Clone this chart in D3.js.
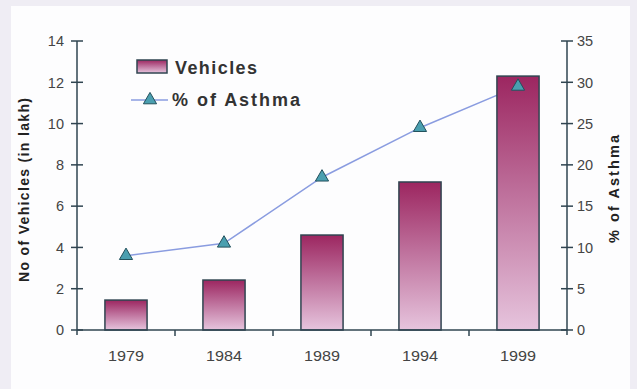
<!DOCTYPE html>
<html>
<head>
<meta charset="utf-8">
<script src="https://cdn.jsdelivr.net/npm/d3@7"></script>
<style>
  html, body { margin: 0; padding: 0; background: #efedf4; }
  svg { display: block; }
  text { font-family: "Liberation Sans", Arial, sans-serif; }
</style>
</head>
<body>
<svg id="chart" width="637" height="389"></svg>
<script>
// Vehicle counts (lakh) and asthma prevalence (%) by survey year
const years = ["1979", "1984", "1989", "1994", "1999"];
const vehicles = [1.45, 2.42, 4.6, 7.17, 12.3];
const asthma = [9, 10.5, 18.5, 24.5, 29.5];
const leftTicks = [0, 2, 4, 6, 8, 10, 12, 14];
const rightTicks = [0, 5, 10, 15, 20, 25, 30, 35];

const svg = d3.select("#chart");

// white plotting panel
svg.append("rect")
  .attr("x", 11).attr("y", 6).attr("width", 619).attr("height", 383)
  .attr("fill", "#fdfdfe");

const plotL = 77, plotR = 567, plotT = 41, plotB = 330;

const x = d3.scaleBand().domain(years).range([plotL, plotR]).paddingInner(0.57).paddingOuter(0.285);
const xBand = d3.scaleBand().domain(years).range([plotL, plotR]);
const cx = d => xBand(d) + xBand.bandwidth() / 2;
const yL = d3.scaleLinear().domain([0, 14]).range([plotB, plotT]);
const yR = d3.scaleLinear().domain([0, 35]).range([plotB, plotT]);

const defs = svg.append("defs");
const grad = defs.append("linearGradient").attr("id", "barGrad")
  .attr("x1", 0).attr("y1", 0).attr("x2", 0).attr("y2", 1);
grad.append("stop").attr("offset", "0%").attr("stop-color", "#9c2660");
grad.append("stop").attr("offset", "45%").attr("stop-color", "#bd6e9a");
grad.append("stop").attr("offset", "100%").attr("stop-color", "#e6c4dd");

const axisColor = "#2f4450";
const lineColor = "#8a9ce0";
const tickText = "#444";

// asthma line sits behind the bars; its markers are drawn on top later
const line = d3.line().x((d, i) => cx(years[i])).y(d => yR(d));
svg.append("path").datum(asthma).attr("d", line)
  .attr("fill", "none").attr("stroke", lineColor).attr("stroke-width", 1.5);

// bars
svg.append("g").selectAll("rect").data(years).join("rect")
  .attr("x", d => x(d))
  .attr("width", x.bandwidth())
  .attr("y", (d, i) => yL(vehicles[i]))
  .attr("height", (d, i) => yL(0) - yL(vehicles[i]))
  .attr("fill", "url(#barGrad)")
  .attr("stroke", axisColor)
  .attr("stroke-width", 1.5);

// left axis
const gL = svg.append("g").attr("transform", `translate(${plotL},0)`);
gL.append("line").attr("y1", yL(14)).attr("y2", yL(0) + 5).attr("stroke", axisColor).attr("stroke-width", 1.5);
gL.selectAll("line.t").data(leftTicks).join("line").attr("class", "t")
  .attr("x1", -6).attr("x2", 6).attr("y1", d => yL(d)).attr("y2", d => yL(d))
  .attr("stroke", axisColor).attr("stroke-width", 1.5);
gL.selectAll("text").data(leftTicks).join("text")
  .attr("x", -13).attr("y", d => yL(d)).attr("dy", "0.36em")
  .attr("text-anchor", "end").attr("font-size", 14.5).attr("fill", tickText)
  .text(d => d);

// right axis
const gR = svg.append("g").attr("transform", `translate(${plotR},0)`);
gR.append("line").attr("y1", yR(35)).attr("y2", yR(0) + 5).attr("stroke", axisColor).attr("stroke-width", 1.5);
gR.selectAll("line.t").data(rightTicks).join("line").attr("class", "t")
  .attr("x1", -6).attr("x2", 6).attr("y1", d => yR(d)).attr("y2", d => yR(d))
  .attr("stroke", axisColor).attr("stroke-width", 1.5);
gR.selectAll("text").data(rightTicks).join("text")
  .attr("x", 10).attr("y", d => yR(d)).attr("dy", "0.36em")
  .attr("text-anchor", "start").attr("font-size", 14.5).attr("fill", tickText)
  .text(d => d);

// x axis
const gX = svg.append("g");
gX.append("line").attr("x1", plotL).attr("x2", plotR).attr("y1", plotB).attr("y2", plotB)
  .attr("stroke", axisColor).attr("stroke-width", 1.5);
gX.selectAll("line.t").data(years.slice(1)).join("line").attr("class", "t")
  .attr("x1", d => xBand(d)).attr("x2", d => xBand(d))
  .attr("y1", plotB).attr("y2", plotB + 6)
  .attr("stroke", axisColor).attr("stroke-width", 1.5);
gX.selectAll("text").data(years).join("text")
  .attr("x", d => cx(d)).attr("y", 361)
  .attr("text-anchor", "middle").attr("font-size", 15).attr("fill", tickText)
  .attr("textLength", 36).attr("lengthAdjust", "spacingAndGlyphs")
  .text(d => d);

// asthma markers
const tri = d3.symbol().type(d3.symbolTriangle).size(75);
svg.append("g").selectAll("path").data(asthma).join("path")
  .attr("d", tri)
  .attr("transform", (d, i) => `translate(${cx(years[i])},${yR(d)})`)
  .attr("fill", "#4a9fb0").attr("stroke", "#22505c").attr("stroke-width", 1);

// axis titles
svg.append("text").attr("transform", "translate(29,190) rotate(-90)")
  .attr("text-anchor", "middle").attr("font-size", 14).attr("font-weight", "bold").attr("fill", "#222")
  .attr("textLength", 184).attr("lengthAdjust", "spacing")
  .text("No of Vehicles (in lakh)");
svg.append("text").attr("transform", "translate(619,189) rotate(-90)")
  .attr("text-anchor", "middle").attr("font-size", 14.5).attr("font-weight", "bold").attr("fill", "#222")
  .attr("textLength", 108).attr("lengthAdjust", "spacing")
  .text("% of Asthma");

// legend
const lg = svg.append("g");
lg.append("rect").attr("x", 137).attr("y", 60).attr("width", 30).attr("height", 13)
  .attr("fill", "url(#barGrad)").attr("stroke", axisColor).attr("stroke-width", 1.5);
lg.append("text").attr("x", 175).attr("y", 74).attr("font-size", 18).attr("font-weight", "bold").attr("fill", "#333")
  .attr("textLength", 82).attr("lengthAdjust", "spacing")
  .text("Vehicles");
lg.append("line").attr("x1", 131).attr("x2", 168).attr("y1", 100).attr("y2", 100)
  .attr("stroke", lineColor).attr("stroke-width", 1.5);
lg.append("path").attr("d", tri).attr("transform", "translate(150,100)")
  .attr("fill", "#4a9fb0").attr("stroke", "#22505c").attr("stroke-width", 1);
lg.append("text").attr("x", 172).attr("y", 106).attr("font-size", 18).attr("font-weight", "bold").attr("fill", "#333")
  .attr("textLength", 128).attr("lengthAdjust", "spacing")
  .text("% of Asthma");
</script>
</body>
</html>
